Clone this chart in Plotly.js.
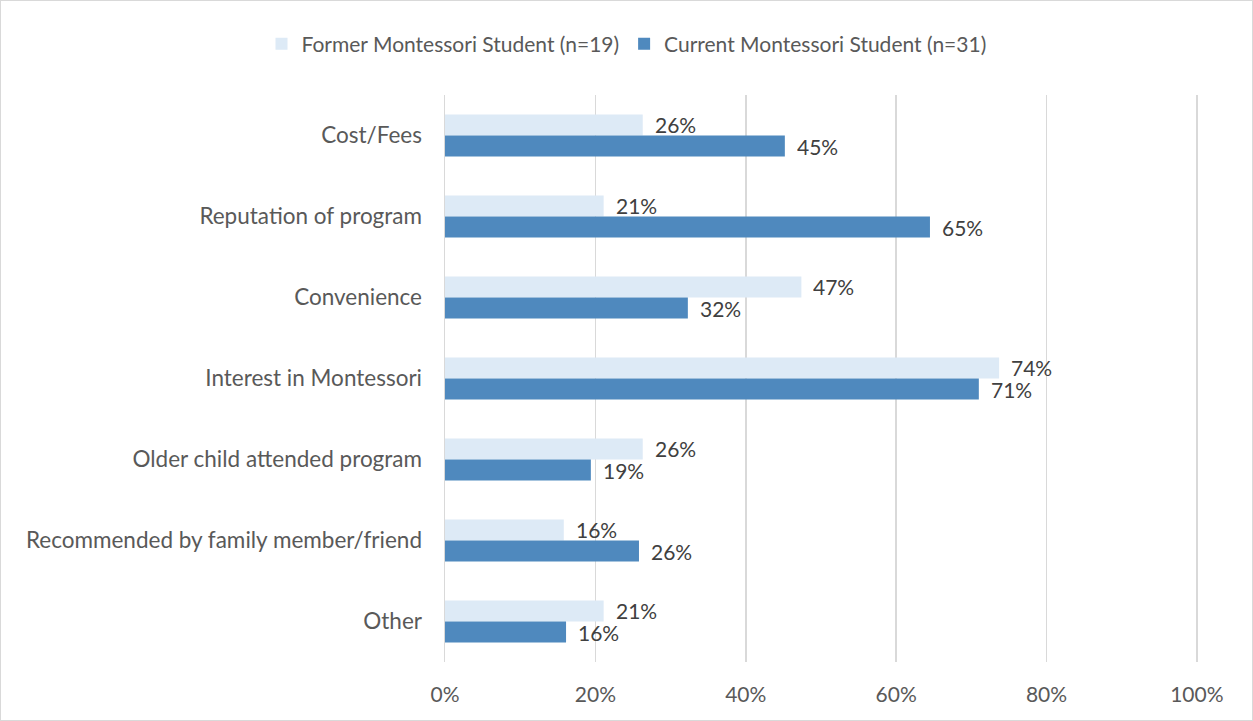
<!DOCTYPE html>
<html>
<head>
<meta charset="utf-8">
<script src="https://cdn.plot.ly/plotly-3.0.1.min.js"></script>
<style>
html,body{margin:0;padding:0;background:#fff;}
#chart{width:1251px;height:719px;border:1px solid #d9d9d9;}
</style>
</head>
<body>
<div id="chart"></div>
<script>
const categories = ["Cost/Fees","Reputation of program","Convenience","Interest in Montessori","Older child attended program","Recommended by family member/friend","Other"];
const formerName = "Former Montessori Student (n=19)";
const currentName = "Current Montessori Student (n=31)";
const formerValues = [26.3, 21.1, 47.4, 73.7, 26.3, 15.8, 21.1];
const currentValues = [45.2, 64.5, 32.3, 71.0, 19.4, 25.8, 16.1];
const xTickValues = [0, 20, 40, 60, 80, 100];

const FONT = "Lato, Open Sans, sans-serif";
const traces = [
  {type:'bar', orientation:'h', name:formerName, y:categories, x:formerValues,
   marker:{color:'#DDEAF6'}, hoverinfo:'x'},
  {type:'bar', orientation:'h', name:currentName, y:categories, x:currentValues,
   marker:{color:'#4F89BE'}, hoverinfo:'x'}
];
const annotations = [];
categories.forEach((c,i)=>{
  annotations.push({x:formerValues[i], y:c, xref:'x', yref:'y', text:Math.round(formerValues[i])+'%',
    showarrow:false, xanchor:'left', yanchor:'middle', xshift:10, yshift:11, height:21,
    font:{family:FONT, size:21, color:'#404040'}});
  annotations.push({x:currentValues[i], y:c, xref:'x', yref:'y', text:Math.round(currentValues[i])+'%',
    showarrow:false, xanchor:'left', yanchor:'middle', xshift:10, yshift:-11, height:21,
    font:{family:FONT, size:21, color:'#404040'}});
});
const layout = {
  width:1251, height:719,
  margin:{l:444, r:54, t:94, b:58},
  paper_bgcolor:'#fff', plot_bgcolor:'#fff',
  font:{family:FONT, size:21, color:'#595959'},
  barmode:'group', bargap:0.48, bargroupgap:0,
  showlegend:true,
  legend:{orientation:'h', x:0.5, xref:'container', xanchor:'center', y:0.94, yref:'container', yanchor:'middle',
    font:{family:FONT, size:21, color:'#595959'}, traceorder:'normal', itemwidth:30},
  xaxis:{range:[0,100.15], tickvals:xTickValues, ticktext:xTickValues.map(v=>v+'%'),
    showgrid:true, gridcolor:'#d9d9d9', gridwidth:1.5, zeroline:false, showline:false,
    ticks:'', ticklabelstandoff:18, tickfont:{size:21}, fixedrange:true},
  yaxis:{autorange:'reversed', type:'category', showgrid:false, zeroline:false,
    showline:true, linecolor:'#d9d9d9', linewidth:1.5, ticks:'', ticklabelstandoff:17,
    tickfont:{size:22.5}, fixedrange:true},
  annotations:annotations
};
Plotly.newPlot('chart', traces, layout, {displayModeBar:false, staticPlot:true});
</script>
</body>
</html>
